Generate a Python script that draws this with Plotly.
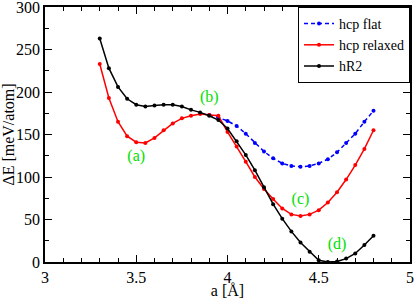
import plotly.graph_objects as go

a_vals = [3.30, 3.35, 3.40, 3.45, 3.50, 3.55, 3.60, 3.65, 3.70, 3.75, 3.80,
          3.85, 3.90, 3.95, 4.00, 4.05, 4.10, 4.15, 4.20, 4.25, 4.30, 4.35,
          4.40, 4.45, 4.50, 4.55, 4.60, 4.65, 4.70, 4.75, 4.80]

hr2 = [263, 228, 206, 192, 185, 183, 184, 185, 185, 183, 179,
       176, 172, 167, 157, 142, 126, 108, 88, 68, 51, 36,
       23, 12, 2, 0, 0.5, 4, 10, 20, 31]

hcp_relaxed = [233, 193, 165, 148, 141, 140, 146, 155, 163, 169, 172,
               174, 173, 172, 153, 136, 118, 100, 86, 74, 63, 56,
               54, 56, 61, 70, 82, 97, 114, 133, 155]

a_flat = [3.90, 3.95, 4.00, 4.05, 4.10, 4.15, 4.20, 4.25, 4.30, 4.35,
          4.40, 4.45, 4.50, 4.55, 4.60, 4.65, 4.70, 4.75, 4.80]
hcp_flat = [173, 170, 166, 160, 151, 140, 130, 122, 116, 113,
            112, 113, 116, 121, 129, 140, 151, 165, 178]

mark_a = [3.5, 3.9, 4.4, 4.6]
mark_e = [141, 173, 54, 0.5]
mark_labels = ["(a)", "(b)", "(c)", "(d)"]
label_e = [123, 193, 73, 20]

font_family = "Times New Roman"
green = "#00e000"

fig = go.Figure()
fig.add_trace(go.Scatter(x=a_flat, y=hcp_flat, mode="lines+markers", name="hcp flat",
                         line=dict(color="#0000ff", width=1.5, dash="4px,3px"),
                         marker=dict(size=4, color="#0000ff")))
fig.add_trace(go.Scatter(x=a_vals, y=hcp_relaxed, mode="lines+markers", name="hcp relaxed",
                         line=dict(color="#ff0000", width=1.5),
                         marker=dict(size=4, color="#ff0000")))
fig.add_trace(go.Scatter(x=a_vals, y=hr2, mode="lines+markers", name="hR2",
                         line=dict(color="#000000", width=1.5),
                         marker=dict(size=4, color="#000000")))
fig.add_trace(go.Scatter(x=mark_a, y=mark_e, mode="markers", showlegend=False,
                         marker=dict(size=10, color="rgba(0,0,0,0)", symbol="circle-open",
                                     line=dict(color=green, width=1.5))))
fig.add_trace(go.Scatter(x=mark_a, y=label_e, mode="text", text=mark_labels, showlegend=False,
                         textfont=dict(family=font_family, size=16, color=green)))

axis_common = dict(showline=True, linecolor="black", linewidth=1.5, mirror="allticks",
                   ticks="inside", ticklen=7, tickwidth=1.2, tickcolor="black",
                   showgrid=False, zeroline=False, automargin=False,
                   ticklabeloverflow="allow",
                   tickfont=dict(family=font_family, size=16, color="black"))

fig.update_xaxes(range=[3, 5], dtick=0.5, tick0=3,
                 minor=dict(dtick=0.1, ticks="inside", ticklen=4, tickcolor="black"),
                 title=dict(text="a [Å]", font=dict(family=font_family, size=16, color="black"),
                            standoff=1),
                 **axis_common)
fig.update_yaxes(range=[0, 300], dtick=50, tick0=0,
                 minor=dict(dtick=25, ticks="inside", ticklen=4, tickcolor="black"),
                 title=dict(text="ΔE [meV/atom]", font=dict(family=font_family, size=16, color="black"),
                            standoff=2),
                 **axis_common)

fig.update_layout(
    width=415, height=299,
    margin=dict(l=45, r=5, t=7, b=37, autoexpand=False),
    plot_bgcolor="white", paper_bgcolor="white",
    font=dict(family=font_family, color="black"),
    legend=dict(x=1, y=1, xanchor="right", yanchor="top",
                bordercolor="black", borderwidth=1, bgcolor="white",
                font=dict(family=font_family, size=14, color="black"),
                itemwidth=30, tracegroupgap=0),
)

fig.write_html("out.html",
               config={"displayModeBar": False},
               post_script="document.body.style.margin='0';document.body.style.padding='0';")
